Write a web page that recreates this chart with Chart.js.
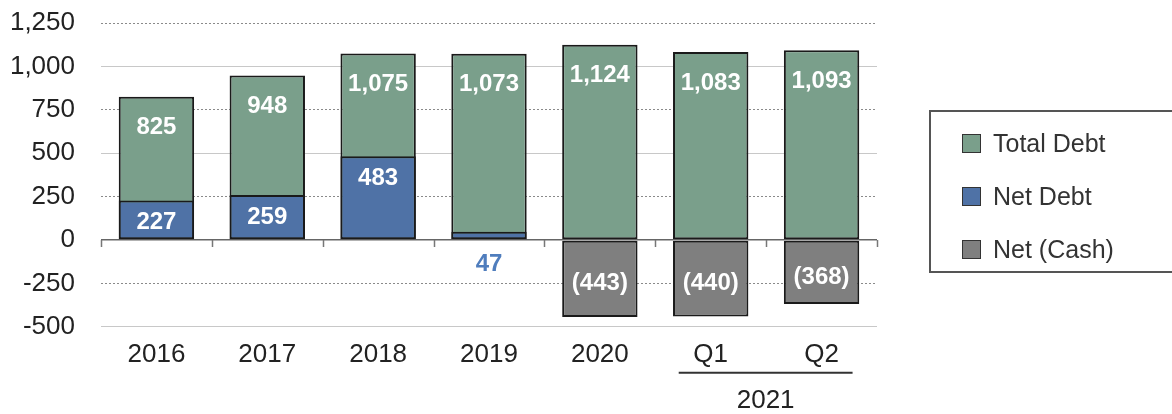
<!DOCTYPE html>
<html>
<head>
<meta charset="utf-8">
<script src="https://cdn.jsdelivr.net/npm/chart.js@4.4.0/dist/chart.umd.min.js"></script>
<style>
  body { margin: 0; background: #fff; font-family: "Liberation Sans", Arial, sans-serif; }
  #wrap { position: relative; width: 1172px; height: 414px; overflow: hidden; }
  #legend { position: absolute; left: 929px; top: 110px; width: 280px; height: 163px; border: 2px solid #555; box-sizing: border-box; }
  .item { position: absolute; left: 31px; height: 26px; display: flex; align-items: center; font-size: 25px; color: #333; }
  .sw { width: 17px; height: 17px; border: 1.5px solid #333; margin-right: 12px; }
</style>
</head>
<body>
<div id="wrap">
  <canvas id="debtChart" width="1172" height="414"></canvas>
  <div id="legend"></div>
</div>
<script>
var labels = ["2016", "2017", "2018", "2019", "2020", "Q1", "Q2"];
var totalDebt = [825, 948, 1075, 1073, 1124, 1083, 1093];
var netDebt = [227, 259, 483, 47, null, null, null];
var netCash = [null, null, null, null, -443, -440, -368];
var yTicks = [-500, -250, 0, 250, 500, 750, 1000, 1250];

var green = "#7a9f8b";
var blue = "#4f72a6";
var grey = "#7f7f7f";

// legend drawn as html box
var legendItems = [["Total Debt", green], ["Net Debt", blue], ["Net (Cash)", grey]];
var legendEl = document.getElementById("legend");
legendItems.forEach(function (it, i) {
  var d = document.createElement("div");
  d.className = "item";
  d.style.top = (18 + i * 53) + "px";
  d.innerHTML = '<span class="sw" style="background:' + it[1] + '"></span>' + it[0];
  legendEl.appendChild(d);
});

var fmt = function (v) { return Math.abs(v).toLocaleString("en-US"); };
var fontFam = "'Liberation Sans', Arial, sans-serif";

var barLabels = {
  id: "barLabels",
  afterDatasetsDraw: function (chart) {
    var ctx = chart.ctx;
    ctx.save();
    ctx.font = "bold 24px " + fontFam;
    ctx.textAlign = "center";
    ctx.textBaseline = "middle";
    chart.data.datasets.forEach(function (ds, di) {
      var meta = chart.getDatasetMeta(di);
      meta.data.forEach(function (el, i) {
        var v = ds.data[i];
        if (v === null || v === undefined) return;
        if (ds.label === "Total Debt") {
          ctx.fillStyle = "#fff";
          ctx.fillText(fmt(v), el.x, el.y + 31);
        } else if (ds.label === "Net Debt") {
          if (el.base - el.y > 30) {
            ctx.fillStyle = "#fff";
            ctx.fillText(fmt(v), el.x, el.y + 22);
          } else {
            ctx.fillStyle = "#4f7dbd";
            ctx.fillText(fmt(v), el.x, el.base + 25);
          }
        } else {
          ctx.fillStyle = "#fff";
          ctx.fillText("(" + fmt(v) + ")", el.x, (el.y + el.base) / 2 + 5);
        }
      });
    });
    ctx.restore();
  }
};

// small tick marks hanging from the zero line between categories
var zeroTicks = {
  id: "zeroTicks",
  beforeDatasetsDraw: function (chart) {
    var sx = chart.scales.x, sy = chart.scales.y;
    var y0 = sy.getPixelForValue(0);
    var half = (sx.getPixelForValue(1) - sx.getPixelForValue(0)) / 2;
    var ctx = chart.ctx;
    ctx.save();
    ctx.strokeStyle = "#777";
    ctx.lineWidth = 1.5;
    ctx.beginPath();
    for (var i = 0; i <= labels.length; i++) {
      var x = Math.round(sx.getPixelForValue(i) - half) + 0.5;
      ctx.moveTo(x, y0);
      ctx.lineTo(x, y0 + 7);
    }
    ctx.stroke();
    ctx.restore();
  }
};

// "2021" bracket under Q1 / Q2
var yearBracket = {
  id: "yearBracket",
  afterDraw: function (chart) {
    var sx = chart.scales.x;
    var x1 = sx.getPixelForValue(5) - 32;
    var x2 = sx.getPixelForValue(6) + 31;
    var y = chart.chartArea.bottom + 46;
    var ctx = chart.ctx;
    ctx.save();
    ctx.strokeStyle = "#333";
    ctx.lineWidth = 2;
    ctx.beginPath();
    ctx.moveTo(x1, y);
    ctx.lineTo(x2, y);
    ctx.stroke();
    ctx.fillStyle = "#222";
    ctx.font = "26px " + fontFam;
    ctx.textAlign = "center";
    ctx.textBaseline = "middle";
    ctx.fillText("2021", (x1 + x2) / 2, y + 28);
    ctx.restore();
  }
};

var ctx = document.getElementById("debtChart").getContext("2d");
var myChart = new Chart(ctx, {
  type: "bar",
  data: {
    labels: labels,
    datasets: [
      {
        label: "Total Debt",
        data: totalDebt,
        backgroundColor: green,
        borderColor: "#1a1a1a",
        borderWidth: 2,
        borderSkipped: false,
        order: 3,
      },
      {
        label: "Net Debt",
        data: netDebt,
        backgroundColor: blue,
        borderColor: "#1a1a1a",
        borderWidth: 2,
        borderSkipped: false,
        order: 1,
      },
      {
        label: "Net (Cash)",
        data: netCash,
        backgroundColor: grey,
        borderColor: "#1a1a1a",
        borderWidth: 2,
        borderSkipped: false,
        order: 2,
      },
    ],
  },
  options: {
    responsive: false,
    animation: false,
    categoryPercentage: 0.8,
    barPercentage: 0.85,
    layout: { padding: { left: 10, right: 295, top: 23, bottom: 40 } },
    plugins: { legend: { display: false }, tooltip: { enabled: false } },
    scales: {
      x: {
        stacked: true,
        offset: true,
        grid: { display: false },
        border: { display: false },
        ticks: { color: "#222", padding: 4, font: { size: 26, family: fontFam } },
      },
      y: {
        stacked: false,
        min: -500,
        max: 1250,
        afterBuildTicks: function (scale) {
          scale.ticks = yTicks.map(function (v) { return { value: v }; });
        },
        afterFit: function (scale) {
          scale.width = 91;
          scale.paddingTop = 0;
          scale.paddingBottom = 0;
        },
        grid: {
          drawTicks: false,
          lineWidth: function (c) {
            return c.tick && c.tick.value === 0 ? 1.5 : 1;
          },
          color: function (c) {
            var v = c.tick ? c.tick.value : 0;
            if (v === 0) return "#666";
            return (v / 250) % 2 !== 0 ? "#8a8a8a" : "#c8c8c8";
          },
        },
        border: {
          display: false,
          dash: function (c) {
            var v = c.tick ? c.tick.value : 0;
            return (v / 250) % 2 !== 0 ? [2, 2] : [];
          },
        },
        ticks: {
          color: "#222",
          padding: 26,
          font: { size: 26, family: fontFam },
          callback: function (v) { return v.toLocaleString("en-US"); },
        },
      },
    },
  },
  plugins: [zeroTicks, barLabels, yearBracket],
});
</script>
</body>
</html>
